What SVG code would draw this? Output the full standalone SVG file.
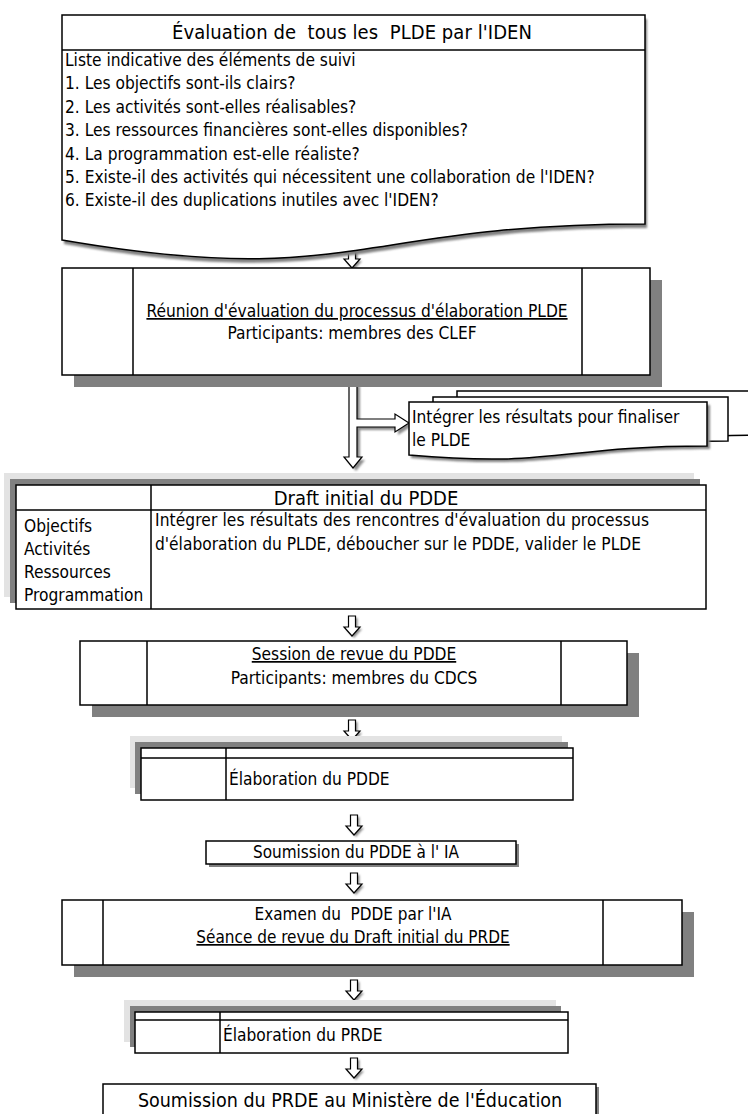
<svg xmlns="http://www.w3.org/2000/svg" width="748" height="1114" viewBox="0 0 748 1114">
  <defs>
    <style>
      .box { fill: #fff; stroke: #000; stroke-width: 1.5; }
      .ln { fill: none; stroke: #000; stroke-width: 1.5; }
      .shade { fill: #808080; }
      .pale { fill: #e3e3e3; }
      .t { font-family: "DejaVu Sans Condensed", "Liberation Sans", sans-serif; fill: #000; white-space: pre; font-size: 17.2px; }
      .s17 { font-size: 17px; }
      .s20 { font-size: 20px; }
      .s195 { font-size: 19.5px; }
      .mid { text-anchor: middle; }
      .u { text-decoration: underline; }
      .arr { fill: #fff; stroke: #000; stroke-width: 1.2; }
      .arr-sh { fill: #8c8c8c; }
    </style>
    <filter id="soft" x="-10%" y="-10%" width="120%" height="130%">
      <feGaussianBlur stdDeviation="1"/>
    </filter>
    <!-- small hollow down arrow, top centre at (0,0) -->
    <path id="dn" d="M-3.5,0 H3.5 V11 H8 L0,20 L-8,11 H-3.5 Z"/>
  </defs>

  <!-- connectors -->
  <g id="connectors">
    <g transform="translate(354,250)"><use href="#dn" class="arr-sh" filter="url(#soft)"/></g>
    <g transform="translate(352,248)"><use href="#dn" class="arr"/></g>

    <path class="arr-sh" filter="url(#soft)" d="M352,386 H360 V422 H398 V417 L412,426 L398,435 V430 H360 V460 H365 L356,471 L347,460 H352 Z"/>
    <path class="arr" d="M349,383 H357 V419 H395 V414 L409,423 L395,432 V427 H357 V457 H362 L353,468 L344,457 H349 Z"/>

    <g transform="translate(354,618)"><use href="#dn" class="arr-sh" filter="url(#soft)"/></g>
    <g transform="translate(352,616)"><use href="#dn" class="arr"/></g>

    <g transform="translate(354,722)"><use href="#dn" class="arr-sh" filter="url(#soft)"/></g>
    <g transform="translate(352,720)"><use href="#dn" class="arr"/></g>

    <g transform="translate(356,817)"><use href="#dn" class="arr-sh" filter="url(#soft)"/></g>
    <g transform="translate(354,815)"><use href="#dn" class="arr"/></g>

    <g transform="translate(356,875)"><use href="#dn" class="arr-sh" filter="url(#soft)"/></g>
    <g transform="translate(354,873)"><use href="#dn" class="arr"/></g>

    <g transform="translate(356,982)"><use href="#dn" class="arr-sh" filter="url(#soft)"/></g>
    <g transform="translate(354,980)"><use href="#dn" class="arr"/></g>

    <g transform="translate(356,1060)"><use href="#dn" class="arr-sh" filter="url(#soft)"/></g>
    <g transform="translate(354,1058)"><use href="#dn" class="arr"/></g>
  </g>

  <!-- evaluation by the IDEN (document shape) -->
  <g id="evaluation-iden">
    <path class="shade" filter="url(#soft)" d="M64,19 H647 V228 C355,228 355,294 64,244 Z"/>
    <path class="box" d="M62,15 H645 V224 C353,224 353,290 62,240 Z"/>
    <path class="ln" d="M62,50 H645"/>
    <text class="t s20 mid" x="352" y="39" textLength="360" lengthAdjust="spacing">Évaluation de  tous les  PLDE par l'IDEN</text>
    <text class="t" x="65" y="66">Liste indicative des éléments de suivi</text>
    <text class="t" x="65" y="89">1. Les objectifs sont-ils clairs?</text>
    <text class="t" x="65" y="113">2. Les activités sont-elles réalisables?</text>
    <text class="t" x="65" y="136">3. Les ressources financières sont-elles disponibles?</text>
    <text class="t" x="65" y="160">4. La programmation est-elle réaliste?</text>
    <text class="t" x="65" y="183">5. Existe-il des activités qui nécessitent une collaboration de l'IDEN?</text>
    <text class="t" x="65" y="206">6. Existe-il des duplications inutiles avec l'IDEN?</text>
  </g>

  <!-- evaluation meeting with CLEF -->
  <g id="reunion-clef">
    <rect class="shade" x="74" y="280" width="588" height="107"/>
    <rect class="box" x="62" y="268" width="588" height="107"/>
    <path class="ln" d="M133,268 V375 M582,268 V375"/>
    <text class="t mid u" x="357" y="317">Réunion d'évaluation du processus d'élaboration PLDE</text>
    <text class="t mid" x="352" y="339">Participants: membres des CLEF</text>
  </g>

  <!-- finalise the PLDE (stacked documents) -->
  <g id="integrer-plde">
    <path class="box" d="M457,391 H770 V435 C620,435 620,452 457,448 Z"/>
    <path class="box" d="M433,397 H728 V441 C580,441 580,460 433,453 Z"/>
    <path class="shade" filter="url(#soft)" d="M411,405 H710 V449 C561,449 561,471 411,458 Z"/>
    <path class="box" d="M409,402 H707 V446 C558,446 558,468 409,455 Z"/>
    <text class="t" x="412" y="423">Intégrer les résultats pour finaliser</text>
    <text class="t" x="412" y="446">le PLDE</text>
  </g>

  <!-- initial PDDE draft -->
  <g id="draft-pdde">
    <rect class="pale" x="4" y="473" width="690" height="124"/>
    <rect class="shade" x="10" y="479" width="690" height="124"/>
    <rect class="box" x="16" y="485" width="690" height="124"/>
    <path class="ln" d="M16,510 H706 M151,485 V609"/>
    <text class="t s20 mid" x="366" y="505">Draft initial du PDDE</text>
    <text class="t" x="24" y="532">Objectifs</text>
    <text class="t" x="24" y="555">Activités</text>
    <text class="t" x="24" y="578">Ressources</text>
    <text class="t" x="24" y="601">Programmation</text>
    <text class="t" x="155" y="526" textLength="494" lengthAdjust="spacing">Intégrer les résultats des rencontres d'évaluation du processus</text>
    <text class="t" x="155" y="550" textLength="486" lengthAdjust="spacing">d'élaboration du PLDE, déboucher sur le PDDE, valider le PLDE</text>
  </g>

  <!-- PDDE review session -->
  <g id="session-pdde">
    <rect class="shade" x="92" y="653" width="547" height="64"/>
    <rect class="box" x="80" y="641" width="547" height="64"/>
    <path class="ln" d="M147,641 V705 M561,641 V705"/>
    <text class="t mid u" x="354" y="660">Session de revue du PDDE</text>
    <text class="t mid" x="354" y="684">Participants: membres du CDCS</text>
  </g>

  <!-- PDDE elaboration -->
  <g id="elaboration-pdde">
    <rect class="pale" x="130" y="736" width="432" height="52"/>
    <rect class="shade" x="135" y="742" width="433" height="52"/>
    <rect class="box" x="141" y="748" width="432" height="52"/>
    <path class="ln" d="M141,758 H573 M226,748 V800"/>
    <text class="t" x="229" y="785">Élaboration du PDDE</text>
  </g>

  <!-- submission to the IA -->
  <g id="soumission-ia">
    <rect class="shade" x="209" y="844" width="310" height="23"/>
    <rect class="box" x="206" y="841" width="310" height="23"/>
    <text class="t s17 mid" x="356" y="858">Soumission du PDDE à l' IA</text>
  </g>

  <!-- review by the IA -->
  <g id="examen-ia">
    <rect class="shade" x="74" y="912" width="620" height="65"/>
    <rect class="box" x="62" y="900" width="620" height="65"/>
    <path class="ln" d="M103,900 V965 M603,900 V965"/>
    <text class="t s17 mid" x="353" y="920">Examen du  PDDE par l'IA</text>
    <text class="t s17 mid u" x="353" y="943">Séance de revue du Draft initial du PRDE</text>
  </g>

  <!-- PRDE elaboration -->
  <g id="elaboration-prde">
    <rect class="pale" x="124" y="1000" width="432" height="42"/>
    <rect class="shade" x="130" y="1006" width="431" height="41"/>
    <rect class="box" x="135" y="1012" width="433" height="41"/>
    <path class="ln" d="M135,1020 H568 M220,1012 V1053"/>
    <text class="t" x="223" y="1041">Élaboration du PRDE</text>
  </g>

  <!-- submission to the Ministry -->
  <g id="soumission-ministere">
    <rect class="shade" x="106" y="1087" width="493" height="40"/>
    <rect class="box" x="103" y="1084" width="493" height="40"/>
    <text class="t s195 mid" x="350" y="1107">Soumission du PRDE au Ministère de l'Éducation</text>
  </g>
</svg>
